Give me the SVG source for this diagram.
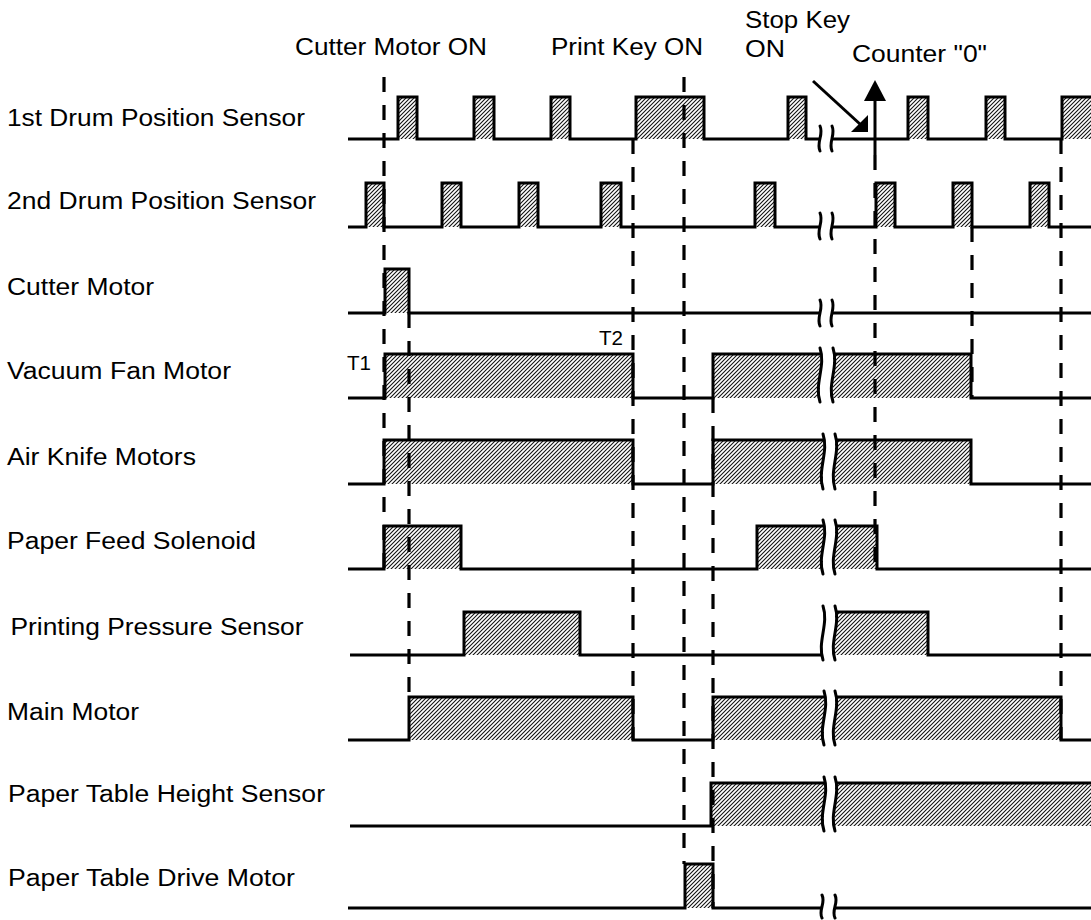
<svg xmlns="http://www.w3.org/2000/svg" width="1091" height="920" viewBox="0 0 1091 920">
<defs>
<pattern id="hatch" patternUnits="userSpaceOnUse" width="4" height="4">
<path d="M-1,1 L1,-1 M0,4 L4,0 M3,5 L5,3" stroke="#111" stroke-width="1.1"/>
</pattern>
</defs>
<style>
.lbl { font-family: "Liberation Sans", Arial, sans-serif; font-size: 23.5px; fill: #000; }
.sm { font-size: 19.5px; }
.wave { fill: none; stroke: #000; stroke-width: 3; stroke-linejoin: miter; stroke-linecap: butt; }
.fill { fill: url(#hatch); stroke: none; }
.brk { fill: none; stroke: #000; stroke-width: 3; stroke-linecap: round; }
.dash { fill: none; stroke: #000; stroke-width: 3.2; stroke-dasharray: 15 13; }
.arr { fill: none; stroke: #000; stroke-width: 3; }
.head { fill: #000; stroke: none; }
</style>
<rect width="1091" height="920" fill="#fff"/>

<g id="row1">
<text class="lbl" x="7" y="126" textLength="298" lengthAdjust="spacingAndGlyphs">1st Drum Position Sensor</text>
<rect class="fill" x="398" y="97" width="19" height="42"/>
<rect class="fill" x="474" y="97" width="20" height="42"/>
<rect class="fill" x="551" y="97" width="19" height="42"/>
<rect class="fill" x="636" y="97" width="68" height="42"/>
<rect class="fill" x="788" y="97" width="18" height="42"/>
<rect class="fill" x="908" y="97" width="20" height="42"/>
<rect class="fill" x="986" y="97" width="19" height="42"/>
<rect class="fill" x="1062" y="97" width="29" height="42"/>
<path class="wave" d="M348,139 H398 V97 H417 V139 H474 V97 H494 V139 H551 V97 H570 V139 H636 V97 H704 V139 H788 V97 H806 V139 H820 M832,139 H908 V97 H928 V139 H986 V97 H1005 V139 H1062 V97 H1091"/>
<path class="brk" d="M820,126 C824,135 816,142 820,151 M832,126 C836,135 828,142 832,151"/>
</g>

<g id="row2">
<text class="lbl" x="7" y="209" textLength="309" lengthAdjust="spacingAndGlyphs">2nd Drum Position Sensor</text>
<rect class="fill" x="366" y="183" width="18" height="44"/>
<rect class="fill" x="442" y="183" width="19" height="44"/>
<rect class="fill" x="519" y="183" width="19" height="44"/>
<rect class="fill" x="601" y="183" width="20" height="44"/>
<rect class="fill" x="755" y="183" width="20" height="44"/>
<rect class="fill" x="876" y="183" width="19" height="44"/>
<rect class="fill" x="953" y="183" width="19" height="44"/>
<rect class="fill" x="1030" y="183" width="19" height="44"/>
<path class="wave" d="M348,227 H366 V183 H384 V227 H442 V183 H461 V227 H519 V183 H538 V227 H601 V183 H621 V227 H755 V183 H775 V227 H820 M832,227 H876 V183 H895 V227 H953 V183 H972 V227 H1030 V183 H1049 V227 H1091"/>
<path class="brk" d="M820,213 C824,222 816,230 820,239 M832,213 C836,222 828,230 832,239"/>
</g>

<g id="row3">
<text class="lbl" x="7" y="295" textLength="147" lengthAdjust="spacingAndGlyphs">Cutter Motor</text>
<rect class="fill" x="385" y="269" width="24" height="44"/>
<path class="wave" d="M348,313 H385 V269 H409 V313 H820 M832,313 H1091"/>
<path class="brk" d="M820,300 C824,309 816,317 820,326 M832,300 C836,309 828,317 832,326"/>
</g>

<g id="row4">
<text class="lbl" x="7" y="379" textLength="224" lengthAdjust="spacingAndGlyphs">Vacuum Fan Motor</text>
<text class="lbl sm" x="347" y="370" textLength="24" lengthAdjust="spacingAndGlyphs">T1</text>
<text class="lbl sm" x="599" y="345" textLength="24" lengthAdjust="spacingAndGlyphs">T2</text>
<rect class="fill" x="385" y="354" width="248" height="44"/>
<rect class="fill" x="713" y="354" width="107" height="44"/>
<rect class="fill" x="833" y="354" width="138" height="44"/>
<path class="wave" d="M348,398 H385 V354 H633 V398 H713 V354 H820 M833,354 H971 V398 H1091"/>
<path class="brk" d="M820,348 C826,366 814,384 820,402 M833,348 C839,366 827,384 833,402"/>
</g>

<g id="row5">
<text class="lbl" x="7" y="465" textLength="189" lengthAdjust="spacingAndGlyphs">Air Knife Motors</text>
<rect class="fill" x="384" y="440" width="249" height="44"/>
<rect class="fill" x="713" y="440" width="110" height="44"/>
<rect class="fill" x="835" y="440" width="136" height="44"/>
<path class="wave" d="M348,484 H384 V440 H633 V484 H713 V440 H823 M835,440 H971 V484 H1091"/>
<path class="brk" d="M823,434 C829,452 817,470 823,489 M835,434 C841,452 829,470 835,489"/>
</g>

<g id="row6">
<text class="lbl" x="7" y="549" textLength="249" lengthAdjust="spacingAndGlyphs">Paper Feed Solenoid</text>
<rect class="fill" x="384" y="526" width="77" height="43"/>
<rect class="fill" x="757" y="526" width="66" height="43"/>
<rect class="fill" x="835" y="526" width="42" height="43"/>
<path class="wave" d="M348,569 H384 V526 H461 V569 H757 V526 H823 M835,526 H877 V569 H1091"/>
<path class="brk" d="M823,520 C829,538 817,556 823,574 M835,520 C841,538 829,556 835,574"/>
</g>

<g id="row7">
<text class="lbl" x="10.5" y="635" textLength="293" lengthAdjust="spacingAndGlyphs">Printing Pressure Sensor</text>
<rect class="fill" x="464" y="612" width="116" height="43"/>
<rect class="fill" x="835" y="612" width="93" height="43"/>
<path class="wave" d="M350,655 H464 V612 H580 V655 H823 M835,612 H928 V655 H1091"/>
<path class="brk" d="M823,606 C829,624 817,642 823,660 M835,606 C841,624 829,642 835,660"/>
</g>

<g id="row8">
<text class="lbl" x="7" y="720" textLength="132" lengthAdjust="spacingAndGlyphs">Main Motor</text>
<rect class="fill" x="409" y="697" width="224" height="43"/>
<rect class="fill" x="713" y="697" width="111" height="43"/>
<rect class="fill" x="835" y="697" width="226" height="43"/>
<path class="wave" d="M348,740 H409 V697 H633 V740 H713 V697 H824 M835,697 H1061 V740 H1091"/>
<path class="brk" d="M824,691 C830,709 818,727 824,745 M835,691 C841,709 829,727 835,745"/>
</g>

<g id="row9">
<text class="lbl" x="8" y="802" textLength="317" lengthAdjust="spacingAndGlyphs">Paper Table Height Sensor</text>
<rect class="fill" x="711" y="783" width="113" height="43"/>
<rect class="fill" x="835" y="783" width="256" height="43"/>
<path class="wave" d="M350,826 H711 V783 H824 M835,783 H1091"/>
<path class="brk" d="M824,777 C830,795 818,813 824,831 M835,777 C841,795 829,813 835,831"/>
</g>

<g id="row10">
<text class="lbl" x="8" y="886" textLength="287" lengthAdjust="spacingAndGlyphs">Paper Table Drive Motor</text>
<rect class="fill" x="685" y="864" width="28" height="44"/>
<path class="wave" d="M348,908 H685 V864 H713 V908 H822 M835,908 H1091"/>
<path class="brk" d="M822,895 C826,903 818,910 822,918 M835,895 C839,903 831,910 835,918"/>
</g>

<g id="events">
<text class="lbl" x="295" y="55" textLength="192" lengthAdjust="spacingAndGlyphs">Cutter Motor ON</text>
<text class="lbl" x="551" y="55" textLength="152" lengthAdjust="spacingAndGlyphs">Print Key ON</text>
<text class="lbl" x="745" y="28" textLength="105" lengthAdjust="spacingAndGlyphs">Stop Key</text>
<text class="lbl" x="745" y="56.5" textLength="40" lengthAdjust="spacingAndGlyphs">ON</text>
<text class="lbl" x="852" y="62" textLength="135" lengthAdjust="spacingAndGlyphs">Counter "0"</text>
</g>

<g id="connectors">
<path class="dash" d="M384,77 V569"/>
<path class="dash" d="M409,313 V697"/>
<path class="dash" d="M633,139 V740"/>
<path class="dash" d="M684,77 V864"/>
<path class="dash" d="M713,398 V908"/>
<path class="dash" d="M875,155 V569"/>
<path class="dash" d="M972,227 V398"/>
<path class="dash" d="M1061,139 V740"/>
<path class="arr" d="M813,81 L861,125"/>
<polygon class="head" points="868,132 851,132 868,115"/>
<path class="arr" d="M875,155 V98"/>
<polygon class="head" points="875,80 864,101 886,101"/>
</g>
</svg>
